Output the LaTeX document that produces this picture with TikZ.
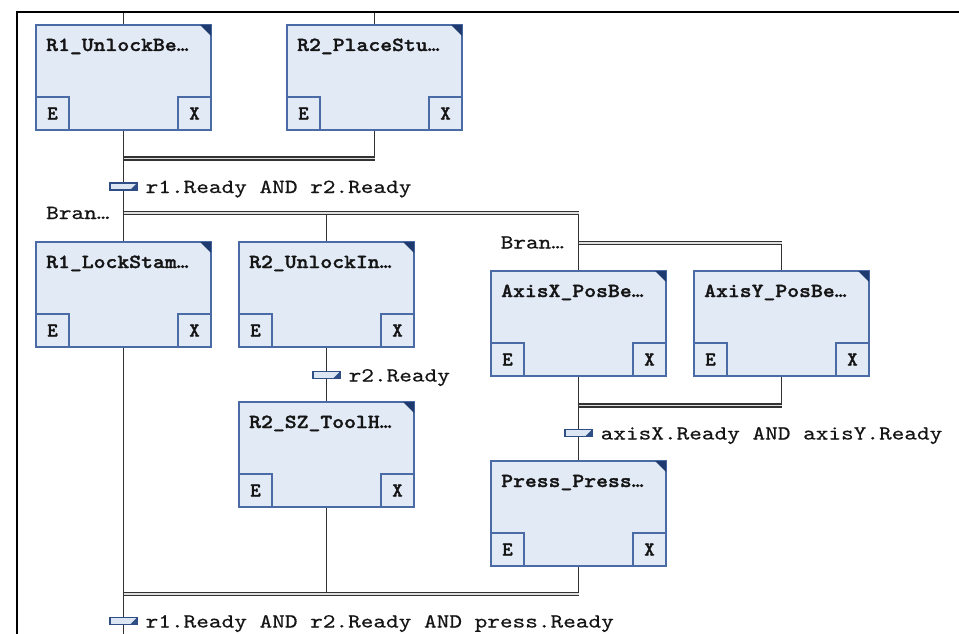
\documentclass[tikz,border=0pt]{standalone}
\usepackage{graphicx}
\usepackage{fontspec}
\newfontfamily\monobold{lmmonolt10-bold.otf}[FakeBold=1.3]
\newfontfamily\monoreg{lmmono10-regular.otf}[FakeBold=0.4]
\usetikzlibrary{calc,backgrounds}
\definecolor{stepfill}{HTML}{E2EAF6}
\definecolor{stepborder}{HTML}{4A6BA5}
\definecolor{cornercol}{HTML}{1E3A6E}
\definecolor{wirecol}{HTML}{333333}
\definecolor{trfill}{HTML}{DCE5F2}
\definecolor{trborder}{HTML}{2F4E86}
\definecolor{txtcol}{HTML}{151515}
\newcommand\titlefont{\fontsize{20}{20}\selectfont\monobold}
\newcommand\labelfont{\fontsize{20}{20}\selectfont\monoreg}
\newcommand\widet[1]{\scalebox{1.13}[1]{#1}}
\newcommand\widel[1]{\scalebox{1.205}[1]{#1}}
\tikzset{
  stepbox/.style={draw=stepborder, fill=stepfill, line width=1.5pt,
    minimum width=175pt, minimum height=105pt, inner sep=0pt, outer sep=0pt,
    anchor=north west},
  exbox/.style={draw=stepborder, fill=stepfill, line width=1.5pt,
    minimum size=33pt, inner sep=0pt, outer sep=0pt, font=\titlefont, text=txtcol},
  wire/.style={draw=wirecol, line width=1.9pt},
  dbl/.style={draw=wirecol, line width=1.5pt, double=white!75!gray, double distance=1.4pt},
  trbar/.style={draw=trborder, fill=trfill, line width=1.3pt,
    minimum width=27pt, minimum height=7pt, inner sep=0pt, outer sep=0pt},
  trlabel/.style={anchor=base west, font=\labelfont, text=txtcol, inner sep=0pt},
  titlelabel/.style={anchor=base west, font=\titlefont, text=txtcol, inner sep=0pt},
  frame/.style={draw=black, line width=2pt},
}
\newcommand\sfcstep[4]{%
  \node[stepbox] (#1) at (#2,#3) {};
  \fill[cornercol] (#1.north east) -- ++(-11,0) -- ++(11,11) -- cycle;
  \node[exbox, anchor=south west] (#1-e) at (#1.south west) {E};
  \node[exbox, anchor=south east] (#1-x) at (#1.south east) {X};
  \node[titlelabel] (#1-t) at ($(#1.north west)+(10,26)$) {\widet{#4}};
}
\newcommand\sfctrans[4]{%
  \node[trbar] (#1) at (#2,#3) {};
  \fill[trborder] ($(#1.south east)+(-7,0)$) -- (#1.south east) -- (#1.north east) -- cycle;
  \node[trlabel] (#1-l) at ($(#1.center)+(22,6.5)$) {\widel{#4}};
}
\begin{document}
\begin{tikzpicture}[x=1pt,y=-1pt]
\useasboundingbox (0,0) rectangle (959,634);
\clip (0,0) rectangle (959,634);
% frame
\coordinate (fbl) at (17,640);
\coordinate (ftl) at (17,12);
\coordinate (ftr) at (965,12);
\draw[frame] (fbl) -- (ftl) -- (ftr);
% steps
\sfcstep{r1u}{36}{25}{R1\_UnlockBe\textellipsis}
\sfcstep{r2p}{287}{25}{R2\_PlaceStu\textellipsis}
\sfcstep{r1l}{36}{242}{R1\_LockStam\textellipsis}
\sfcstep{r2u}{239}{242}{R2\_UnlockIn\textellipsis}
\sfcstep{r2s}{239}{402}{R2\_SZ\_ToolH\textellipsis}
\sfcstep{ax}{491}{271}{AxisX\_PosBe\textellipsis}
\sfcstep{ay}{694}{271}{AxisY\_PosBe\textellipsis}
\sfcstep{pr}{491}{461}{Press\_Press\textellipsis}
% transitions
\sfctrans{t1}{123.5}{186.5}{r1.Ready AND r2.Ready}
\sfctrans{t2}{326.5}{375}{r2.Ready}
\sfctrans{t3}{578.5}{433}{axisX.Ready AND axisY.Ready}
\sfctrans{t4}{123.5}{621}{r1.Ready AND r2.Ready AND press.Ready}
% branch labels
\node[trlabel] (bran1) at (46,219) {\widel{Bran\textellipsis}};
\node[trlabel] (bran2) at (500.5,248.5) {\widel{Bran\textellipsis}};
% junctions
\coordinate (top1) at (123.5,12);
\coordinate (top2) at (374.5,12);
\coordinate (j1l) at (123.5,158.5);
\coordinate (j1r) at (374.5,158.5);
\coordinate (j2l) at (123.5,213);
\coordinate (j2m) at (326.5,213);
\coordinate (j2r) at (578.5,213);
\coordinate (j3l) at (578.5,243);
\coordinate (j3r) at (781.5,243);
\coordinate (j4l) at (578.5,405.5);
\coordinate (j4r) at (781.5,405.5);
\coordinate (j5l) at (123.5,594);
\coordinate (j5m) at (326.5,594);
\coordinate (j5r) at (578.5,594);
\coordinate (bot) at (123.5,640);
\begin{pgfonlayer}{background}
\draw[wire] (top1) -- (r1u.north);
\draw[wire] (top2) -- (r2p.north);
\draw[wire] (r1u.south) -- (t1) -- (j2l) -- (r1l.north);
\draw[wire] (r2p.south) -- (j1r);
\draw[wire] (j2m) -- (r2u.north);
\draw[wire] (j2r) -- (ax.north);
\draw[wire] (j3r) -- (ay.north);
\draw[wire] (r2u.south) -- (t2) -- (r2s.north);
\draw[wire] (ax.south) -- (t3) -- (pr.north);
\draw[wire] (ay.south) -- (j4r);
\draw[wire] (r1l.south) -- (t4) -- (bot);
\draw[wire] (r2s.south) -- (j5m);
\draw[wire] (pr.south) -- (j5r);
\draw[dbl] (j1l) -- (j1r);
\draw[dbl] (j2l) -- (j2r);
\draw[dbl] (j3l) -- (j3r);
\draw[dbl] (j4l) -- (j4r);
\draw[dbl] (j5l) -- (j5r);
\end{pgfonlayer}
\end{tikzpicture}
\end{document}
